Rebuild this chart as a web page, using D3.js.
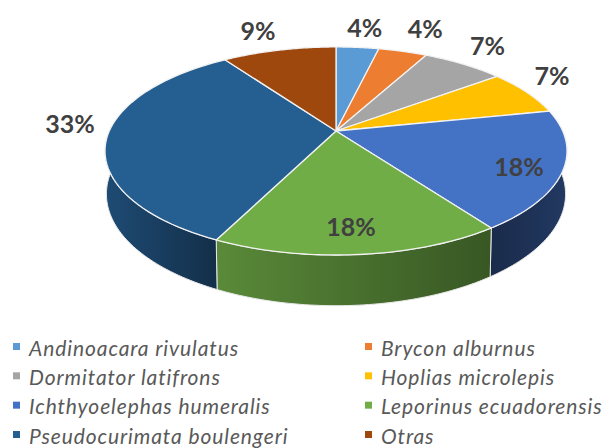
<!DOCTYPE html>
<html><head><meta charset="utf-8">
<script src="https://cdn.jsdelivr.net/npm/d3@7/dist/d3.min.js"></script>
<style>html,body{margin:0;padding:0;background:#fff}svg{display:block}</style></head>
<body><svg id="c" width="606" height="448"></svg>
<script>
const species = ["Andinoacara rivulatus","Brycon alburnus","Dormitator latifrons","Hoplias microlepis","Ichthyoelephas humeralis","Leporinus ecuadorensis","Pseudocurimata boulengeri","Otras"];
const values = [3.6,4.1,6.9,7.1,18.5,17.0,33.2,9.6];
const percentLabels = ["4%","4%","7%","7%","18%","18%","33%","9%"];
const colors = ["#5b9bd5","#ed7d31","#a5a5a5","#ffc000","#4472c4","#70ad47","#255e91","#9e480e"];

const svg = d3.select("#c");
const defs = svg.append("defs");
const cx=336, cy=131, A=226.7, B=100.2, k=0.192, D=42;
const top3 = (t,r=1)=>{const X=r*Math.sin(t),Y=r*Math.cos(t),w=1+k*Y;return [cx+A*X/w,cy-B*Y/w];};
const bot3 = (t)=>{const X=Math.sin(t),Y=Math.cos(t),w=1+k*Y+0.006;return [cx+A*X/w,cy+(D-B*Y)/w];};
const arcs = d3.pie().sort(null).value(d=>d)(values);
const samples=(a,b)=>d3.range(0,61).map(i=>a+(b-a)*i/60);
const line=d3.line();

// side wall, only the part of each slice that faces the viewer
const vis0=Math.PI*0.47, vis1=Math.PI*1.53;
const scaled=(c,f)=>d3.rgb(c.r*f,c.g*f,c.b*f);
arcs.forEach((a,i)=>{
  const s=Math.max(a.startAngle,vis0), e=Math.min(a.endAngle,vis1);
  if(e<=s) return;
  const ts=samples(s,e);
  const pts=ts.map(t=>top3(t)).concat(ts.slice().reverse().map(t=>bot3(t)));
  const xs=d3.extent(pts,p=>p[0]);
  const c=d3.rgb(colors[i]);
  const g=defs.append("linearGradient").attr("id","g"+i).attr("gradientUnits","userSpaceOnUse")
    .attr("x1",xs[0]).attr("x2",xs[1]).attr("y1",0).attr("y2",0);
  const f = i===4 ? [0.38,0.5] : [0.8,0.5];
  g.append("stop").attr("offset",0).attr("stop-color",scaled(c,f[0]));
  g.append("stop").attr("offset",1).attr("stop-color",scaled(c,f[1]));
  svg.append("path").attr("d",line(pts)+"Z").attr("fill",`url(#g${i})`)
    .attr("stroke","#e8e8e8").attr("stroke-width",1).attr("stroke-linejoin","round");
});

// top face
arcs.forEach((a,i)=>{
  const pts=[[cx,cy]].concat(samples(a.startAngle,a.endAngle).map(t=>top3(t)));
  svg.append("path").attr("d",line(pts)+"Z").attr("fill",colors[i])
    .attr("stroke","#f2f2f2").attr("stroke-width",1.3).attr("stroke-linejoin","round");
});

// percentage labels, placed along each slice's mid angle
const labelR=[1.306,1.371,1.30,1.237,0.824,0.804,1.194,1.32];
const labelAdj=[0.5,0.6,-2.2,-5.7,2,0.7,8.2,-1.6].map(d=>d*Math.PI/180);
arcs.forEach((a,i)=>{
  const mid=(a.startAngle+a.endAngle)/2+labelAdj[i];
  const p=top3(mid,labelR[i]);
  svg.append("text").attr("x",p[0]).attr("y",p[1]).attr("text-anchor","middle").attr("dominant-baseline","central")
    .attr("font-family","Lato, 'Open Sans', sans-serif").attr("font-weight",700).attr("font-size",25)
    .attr("fill","#404040").text(percentLabels[i]);
});

// legend
const colX=d3.scaleOrdinal().domain([0,1]).range([13,365]);
const rowY=d3.scalePoint().domain([0,1,2,3]).range([347,435]);
species.forEach((name,i)=>{
  const x=colX(i%2), y=rowY(Math.floor(i/2));
  svg.append("rect").attr("x",x).attr("y",y-4).attr("width",7).attr("height",7).attr("fill",colors[i]);
  svg.append("text").attr("x",x+16).attr("y",y).attr("dominant-baseline","central")
    .attr("font-family","Lato, sans-serif").attr("font-style","italic").attr("font-size",21)
    .attr("letter-spacing",0.9).attr("fill","#595959").text(name);
});
</script></body></html>
